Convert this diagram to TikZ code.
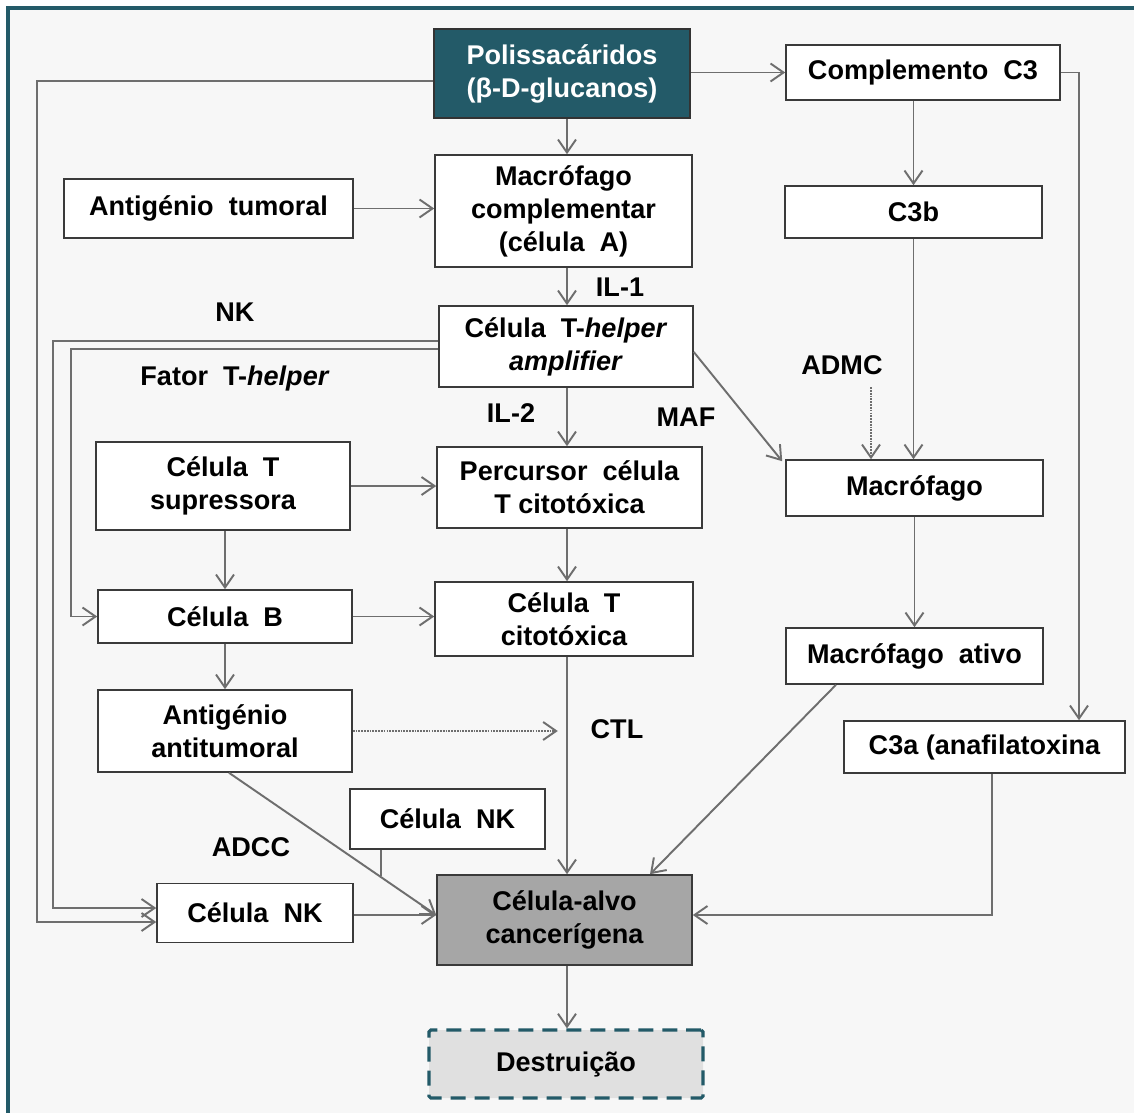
\documentclass[tikz,border=0pt]{standalone}
\usepackage{fontspec}
\setmainfont{Liberation Sans}
\usetikzlibrary{arrows.meta,calc}

\definecolor{frameteal}{HTML}{235A68}
\definecolor{paper}{HTML}{F7F7F7}
\definecolor{linegray}{HTML}{6E6E6E}
\definecolor{boxline}{HTML}{3A3A3A}
\definecolor{alvogray}{HTML}{A6A6A6}
\definecolor{destrgray}{HTML}{E0E0E0}

\begin{document}
\begin{tikzpicture}[x=0.02cm, y=-0.02cm]

    % Stijlen voor kaders, labels en pijlen
    \tikzset{
        sz/.style 2 args={minimum width=#1*0.02cm, minimum height=#2*0.02cm},
        cellbox/.style={draw=boxline, line width=0.9pt, fill=white, inner sep=0pt,
            align=center, font=\fontsize{15.4}{18.8}\selectfont\bfseries},
        polybox/.style={cellbox, fill=frameteal, draw=black!80, text=white},
        alvobox/.style={cellbox, fill=alvogray},
        destrbox/.style={cellbox, fill=destrgray, draw=frameteal, line width=1.8pt,
            dash pattern=on 0.3cm off 0.18cm, rounded corners=1pt},
        tag/.style={font=\fontsize{15.4}{18.8}\selectfont\bfseries, inner sep=0pt},
        arr/.style={draw=linegray, line width=1.1pt, -{Straight Barb[length=2.6mm, width=3.6mm]}},
        plain/.style={draw=linegray, line width=1.1pt},
        dotarr/.style={arr, dash pattern=on 1pt off 0.6pt}
    }

    % --- ACHTERGROND EN KADER ---
    \useasboundingbox (0,0) rectangle (1134,1113);
    \begin{scope}
        \clip (0,0) rectangle (1134,1113);
        \fill[white] (0,0) rectangle (1134,1113);
        \draw[fill=paper, draw=frameteal, line width=2.8pt] (8,8) rectangle (1200,1200);
    \end{scope}

    % --- KADERS ---
    \node[polybox, sz={256}{89}] (poly) at (562,73.5) {Polissacáridos\\(β-D-glucanos)};
    \node[cellbox, sz={274}{55}] (compC3) at (923,72.5) {Complemento~ C3};
    \node[cellbox, sz={289}{59}] (antTum) at (208.5,208.5) {Antigénio~ tumoral};
    \node[cellbox, sz={257}{112}] (macComp) at (563.5,211) {Macrófago\\complementar\\(célula~ A)};
    \node[cellbox, sz={257}{52}] (c3b) at (913.5,212) {C3b};
    \node[cellbox, sz={254}{81}] (thelper) at (566,346.5) {Célula~ T-\textit{helper}\\\textit{amplifier}};
    \node[cellbox, sz={254}{88}] (supr) at (223,486) {Célula~ T\\supressora};
    \node[cellbox, sz={265}{81}] (perc) at (569.5,487.5) {Percursor~ célula\\T citotóxica};
    \node[cellbox, sz={257}{56}] (macro) at (914.5,488) {Macrófago};
    \node[cellbox, sz={254}{53}] (celB) at (225,616.5) {Célula~ B};
    \node[cellbox, sz={258}{74}] (tcit) at (564,619) {Célula~ T\\citotóxica};
    \node[cellbox, sz={257}{56}] (macAt) at (914.5,656) {Macrófago~ ativo};
    \node[cellbox, sz={254}{82}] (antAnti) at (225,731) {Antigénio\\antitumoral};
    \node[cellbox, sz={281}{52}] (c3a) at (984.5,747) {C3a (anafilatoxina};
    \node[cellbox, sz={195}{60}] (nkUp) at (447.5,819) {Célula~ NK};
    \node[cellbox, sz={196}{59}] (nkLow) at (255,913) {Célula~ NK};
    \node[alvobox, sz={255}{90}] (alvo) at (564.5,920) {Célula-alvo\\cancerígena};
    \node[destrbox, sz={274}{68}] (destr) at (566,1064) {Destruição};

    % --- LOSSE LABELS ---
    \node[tag] (il1) at (620,287) {IL-1};
    \node[tag] (nk) at (235,312) {NK};
    \node[tag] (fator) at (235,378) {Fator~ T-\textit{helper}};
    \node[tag] (il2) at (511,413) {IL-2};
    \node[tag] (maf) at (686,417) {MAF};
    \node[tag] (admc) at (842,365) {ADMC};
    \node[tag] (ctl) at (617,729) {CTL};
    \node[tag] (adcc) at (251,847) {ADCC};

    % --- PIJLEN ---
    \coordinate (cx) at (567,0);
    % middenkolom
    \draw[arr] (poly.south -| cx) -- (macComp.north -| cx);
    \draw[arr] (macComp.south -| cx) -- (thelper.north -| cx);
    \draw[arr] (thelper.south -| cx) -- (perc.north -| cx);
    \draw[arr] (perc.south -| cx) -- (tcit.north -| cx);
    \draw[arr] (tcit.south -| cx) -- (alvo.north -| cx);
    \draw[arr] (alvo.south -| cx) -- (destr.north -| cx);
    % horizontaal naar rechts
    \draw[arr] (poly.east |- compC3.west) -- (compC3.west);
    \draw[arr] (antTum.east) -- (antTum.east -| macComp.west);
    \draw[arr] (supr.east) -- (supr.east -| perc.west);
    \draw[arr] (celB.east) -- (celB.east -| tcit.west);
    \draw[arr] ($(nkLow.east)+(0,2)$) -- ($(alvo.west)+(0,-5)$);
    \draw[dotarr] (antAnti.east) -- ++(205,0);
    % lange lijnen links
    \draw[arr] ($(poly.west)+(0,7.5)$) -- ++(-396,0) |- ($(nkLow.west)+(0,9)$);
    \draw[arr] ($(thelper.west)+(0,-5.5)$) -- ++(-385,0) |- ($(nkLow.west)+(0,-5)$);
    \draw[arr] ($(thelper.west)+(0,2.5)$) -- ++(-367,0) |- (celB.west);
    % linkerkolom
    \draw[arr] (supr.south -| celB) -- (celB.north);
    \draw[arr] (celB.south) -- (antAnti.north);
    \draw[arr] ($(antAnti.south)+(4,0)$) -- ($(alvo.west)+(0,-5)$);
    \draw[plain] ($(nkUp.south)+(-66.5,0)$) -- ++(0,26);
    % rechterkant
    \draw[arr] ($(thelper.east)+(0,5.5)$) -- ($(macro.north west)+(-3,2)$);
    \draw[arr] (c3b.north |- compC3.south) -- (c3b.north);
    \draw[arr] (c3b.south) -- (c3b.south |- macro.north);
    \draw[dotarr] ($(macro.north)+(-43.5,-72)$) -- ($(macro.north)+(-43.5,0)$);
    \draw[arr] (macro.south) -- (macAt.north);
    \draw[arr] ($(macAt.south)+(-78.5,0)$) -- ($(alvo.north)+(85.5,0)$);
    \draw[arr] (compC3.east) -| ($(c3a.north)+(94.5,0)$);
    \draw[arr] ($(c3a.south)+(7.5,0)$) |- ($(alvo.east)+(0,-5)$);

\end{tikzpicture}
\end{document}
